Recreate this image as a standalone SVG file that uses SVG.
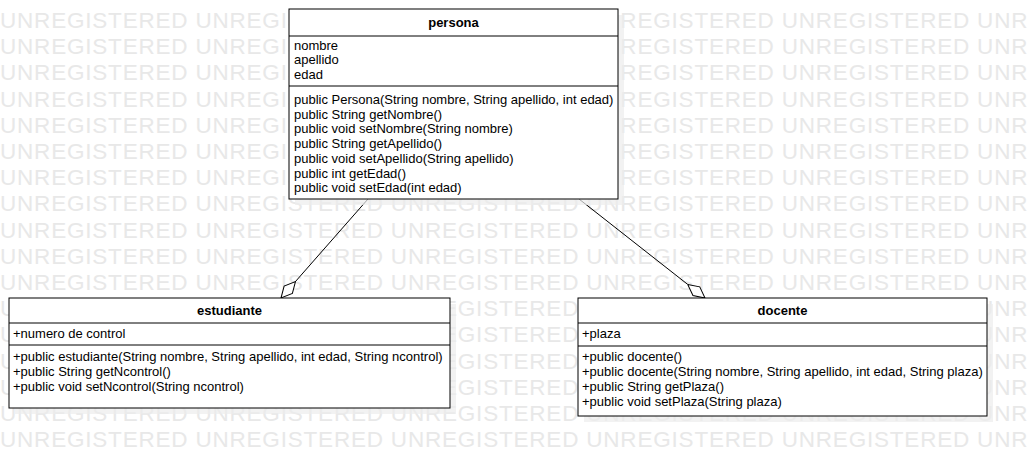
<svg xmlns="http://www.w3.org/2000/svg" xmlns:xlink="http://www.w3.org/1999/xlink" width="1027" height="457" viewBox="0 0 1027 457">
<style>
.wm{font-family:"Liberation Sans",Arial,sans-serif;font-size:22.5px;letter-spacing:0.8px;fill:#e8e8e8}
.box{fill:#fff;stroke:#000;stroke-width:1}
.shadow{fill:#ececec;fill-opacity:0.7}
.sep{stroke:#000;stroke-width:1}
.t{font-family:"Liberation Sans",Arial,sans-serif;font-size:13px;fill:#000}
.title{font-family:"Liberation Sans",Arial,sans-serif;font-size:13px;font-weight:bold;fill:#000;text-anchor:middle}
.conn{stroke:#000;stroke-width:1;fill:none}
</style>
<defs>
<text id="wmrow" class="wm" x="0" y="0">UNREGISTERED UNREGISTERED UNREGISTERED UNREGISTERED UNREGISTERED UNREGISTERED</text>
<marker id="agg" markerUnits="userSpaceOnUse" markerWidth="24" markerHeight="14" refX="22" refY="7" orient="auto">
<path d="M0,7 L11,1.5 L22,7 L11,12.5 Z" fill="#fff" stroke="#000" stroke-width="1"/>
</marker>
</defs>
<rect width="1027" height="457" fill="#fff"/>
<g id="watermark">
<use xlink:href="#wmrow" y="28"/>
<use xlink:href="#wmrow" y="54.2"/>
<use xlink:href="#wmrow" y="80.4"/>
<use xlink:href="#wmrow" y="106.6"/>
<use xlink:href="#wmrow" y="132.8"/>
<use xlink:href="#wmrow" y="159"/>
<use xlink:href="#wmrow" y="185.2"/>
<use xlink:href="#wmrow" y="211.4"/>
<use xlink:href="#wmrow" y="237.6"/>
<use xlink:href="#wmrow" y="263.8"/>
<use xlink:href="#wmrow" y="290"/>
<use xlink:href="#wmrow" y="316.2"/>
<use xlink:href="#wmrow" y="342.4"/>
<use xlink:href="#wmrow" y="368.6"/>
<use xlink:href="#wmrow" y="394.8"/>
<use xlink:href="#wmrow" y="421"/>
<use xlink:href="#wmrow" y="447.2"/>
</g>
<g id="connectors">
<line class="conn" x1="368" y1="199" x2="281" y2="298" marker-end="url(#agg)"/>
<line class="conn" x1="579" y1="199" x2="705" y2="298" marker-end="url(#agg)"/>
</g>
<g id="persona">
<rect class="shadow" x="295" y="15" width="329" height="190"/>
<rect class="box" x="289" y="9" width="329" height="190"/>
<line class="sep" x1="289" y1="36" x2="618" y2="36"/>
<line class="sep" x1="289" y1="86" x2="618" y2="86"/>
<text class="title" x="453.5" y="26.5">persona</text>
<text class="t" x="294" y="49.5">nombre</text>
<text class="t" x="294" y="64.3">apellido</text>
<text class="t" x="294" y="79">edad</text>
<text class="t" x="294" y="104">public Persona(String nombre, String apellido, int edad)</text>
<text class="t" x="294" y="118.7">public String getNombre()</text>
<text class="t" x="294" y="133.4">public void setNombre(String nombre)</text>
<text class="t" x="294" y="148.1">public String getApellido()</text>
<text class="t" x="294" y="162.8">public void setApellido(String apellido)</text>
<text class="t" x="294" y="177.5">public int getEdad()</text>
<text class="t" x="294" y="192.2">public void setEdad(int edad)</text>
</g>
<g id="estudiante">
<rect class="shadow" x="15" y="304" width="441" height="110"/>
<rect class="box" x="9" y="298" width="441" height="110"/>
<line class="sep" x1="9" y1="323" x2="450" y2="323"/>
<line class="sep" x1="9" y1="345" x2="450" y2="345"/>
<text class="title" x="229.5" y="315.4">estudiante</text>
<text class="t" x="13" y="338">+numero de control</text>
<text class="t" x="13" y="361.4">+public estudiante(String nombre, String apellido, int edad, String ncontrol)</text>
<text class="t" x="13" y="376.2">+public String getNcontrol()</text>
<text class="t" x="13" y="391">+public void setNcontrol(String ncontrol)</text>
</g>
<g id="docente">
<rect class="shadow" x="584" y="304" width="409" height="118"/>
<rect class="box" x="578" y="298" width="409" height="118"/>
<line class="sep" x1="578" y1="323" x2="987" y2="323"/>
<line class="sep" x1="578" y1="346" x2="987" y2="346"/>
<text class="title" x="782.5" y="315.4">docente</text>
<text class="t" x="582" y="338">+plaza</text>
<text class="t" x="582" y="361.4">+public docente()</text>
<text class="t" x="582" y="376.2">+public docente(String nombre, String apellido, int edad, String plaza)</text>
<text class="t" x="582" y="391">+public String getPlaza()</text>
<text class="t" x="582" y="405.8">+public void setPlaza(String plaza)</text>
</g>
</svg>
